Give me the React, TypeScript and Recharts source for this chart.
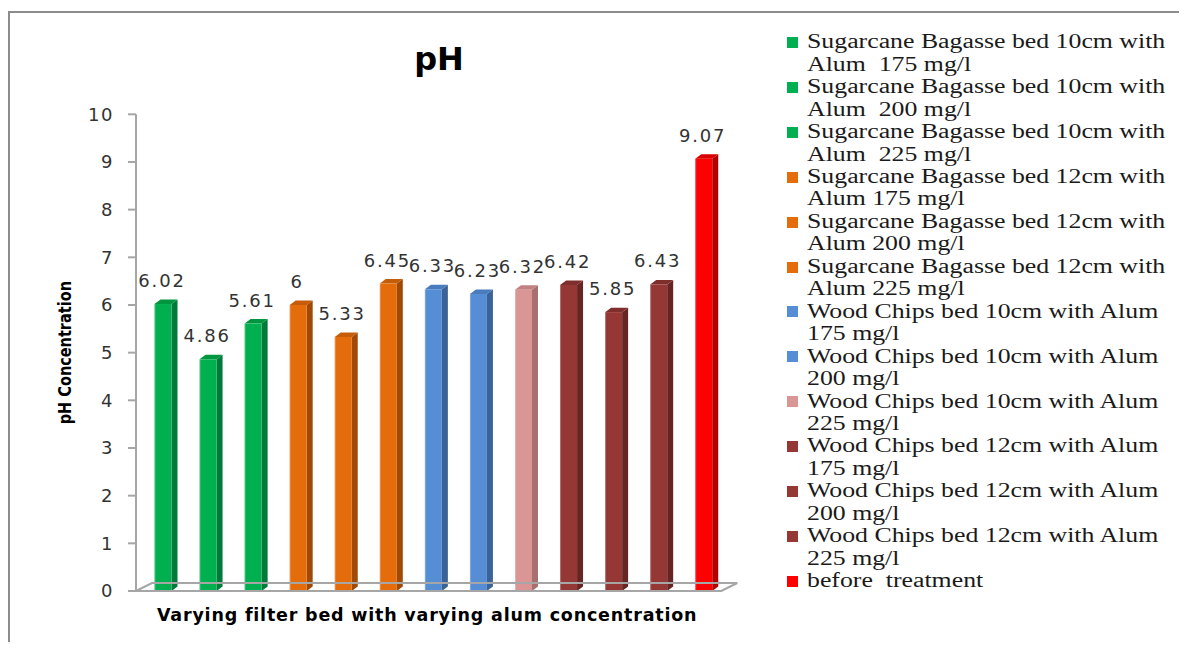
import React from 'react';
import { BarChart, Bar, XAxis, YAxis, LabelList, ReferenceLine } from 'recharts';

const categories: string[] = [
  'Sugarcane Bagasse bed 10cm with Alum  175 mg/l',
  'Sugarcane Bagasse bed 10cm with Alum  200 mg/l',
  'Sugarcane Bagasse bed 10cm with Alum  225 mg/l',
  'Sugarcane Bagasse bed 12cm with Alum 175 mg/l',
  'Sugarcane Bagasse bed 12cm with Alum 200 mg/l',
  'Sugarcane Bagasse bed 12cm with Alum 225 mg/l',
  'Wood Chips bed 10cm with Alum 175 mg/l',
  'Wood Chips bed 10cm with Alum 200 mg/l',
  'Wood Chips bed 10cm with Alum 225 mg/l',
  'Wood Chips bed 12cm with Alum 175 mg/l',
  'Wood Chips bed 12cm with Alum 200 mg/l',
  'Wood Chips bed 12cm with Alum 225 mg/l',
  'before  treatment',
];

const phValues: number[] = [6.02, 4.86, 5.61, 6, 5.33, 6.45, 6.33, 6.23, 6.32, 6.42, 5.85, 6.43, 9.07];

const frontColors: string[] = [
  '#00b050', '#00b050', '#00b050',
  '#e46c0a', '#e46c0a', '#e46c0a',
  '#558ed5', '#558ed5', '#d99694',
  '#953735', '#953735', '#953735',
  '#ff0000',
];

const sideColors: string[] = [
  '#007a38', '#007a38', '#007a38',
  '#a04a06', '#a04a06', '#a04a06',
  '#3a6397', '#3a6397', '#a86f6e',
  '#662523', '#662523', '#662523',
  '#b00000',
];

const topColors: string[] = [
  '#00963f', '#00963f', '#00963f',
  '#c55c08', '#c55c08', '#c55c08',
  '#4a7bbd', '#4a7bbd', '#c28180',
  '#7f2e2c', '#7f2e2c', '#7f2e2c',
  '#d80000',
];

const yTicks: number[] = [0, 1, 2, 3, 4, 5, 6, 7, 8, 9, 10];

const chartTitle = 'pH';
const xTitle = 'Varying filter bed with varying alum concentration';
const yTitle = 'pH Concentration';

const data = categories.map((name, i) => ({ name, value: phValues[i], idx: i }));

const DX = 6;
const DY = 4.5;

const Bar3D = (props: any) => {
  const { x, y, width, height } = props;
  const i = props.payload?.idx ?? props.index ?? 0;
  if (height == null || width == null) return null;
  const top = `${x},${y} ${x + DX},${y - DY} ${x + width + DX},${y - DY} ${x + width},${y}`;
  const side = `${x + width},${y} ${x + width + DX},${y - DY} ${x + width + DX},${y + height - DY} ${x + width},${y + height}`;
  return (
    <g>
      <polygon points={side} fill={sideColors[i]} />
      <polygon points={top} fill={topColors[i]} />
      <rect x={x} y={y} width={width} height={height} fill={frontColors[i]} />
      <line x1={x + 0.5} y1={y} x2={x + 0.5} y2={y + height} stroke="rgba(255,255,255,0.25)" strokeWidth={1} />
    </g>
  );
};

const ValueLabel = (props: any) => {
  const { x, y, width, value } = props;
  return (
    <text
      x={x + width / 2 - 1}
      y={y - 17}
      textAnchor="middle"
      fill="#333333"
      fontSize={18}
      fontFamily="'DejaVu Sans', sans-serif"
      letterSpacing={1.8}
    >
      {value}
    </text>
  );
};

const YTick = (props: any) => {
  const { x, y, payload } = props;
  return (
    <text
      x={x}
      y={y}
      dy="0.36em"
      textAnchor="end"
      fill="#333333"
      fontSize={18}
      fontFamily="'DejaVu Sans', sans-serif"
      letterSpacing={1.5}
    >
      {payload.value}
    </text>
  );
};

const YTitle = (props: any) => {
  const vb = props.viewBox || {};
  const cx = vb.x + 8;
  const cy = vb.y + vb.height / 2;
  return (
    <text
      transform={`translate(${cx},${cy}) scale(1.25,1) rotate(-90)`}
      x={0}
      y={0}
      dy="0.36em"
      textAnchor="middle"
      fill="#000"
      fontSize={14.5}
      fontWeight="bold"
      fontFamily="'DejaVu Sans', sans-serif"
    >
      {yTitle}
    </text>
  );
};

const XTitle = (props: any) => {
  const vb = props.viewBox || {};
  return (
    <text
      x={vb.x + vb.width / 2 - 4}
      y={vb.y + 30}
      textAnchor="middle"
      fill="#000"
      fontSize={17.5}
      fontWeight="bold"
      fontFamily="'DejaVu Sans', sans-serif"
      letterSpacing={0.8}
    >
      {xTitle}
    </text>
  );
};

const Floor = (props: any) => {
  const { x1, y1, x2 } = props;
  const left = x1;
  const right = x2 - 5;
  const pts = `${left},${y1} ${right},${y1} ${right + 16},${y1 - 8} ${left + 16},${y1 - 8} ${left},${y1}`;
  return <polyline points={pts} fill="none" stroke="#a6a6a6" strokeWidth={2} />;
};

const LegendBlock = () => (
  <div style={{ position: 'absolute', left: 777, top: 17.3, width: 400 }}>
    {categories.map((c, i) => (
      <div key={i} style={{ position: 'relative', display: 'flex', alignItems: 'flex-start' }}>
        <div style={{ width: 11, height: 11, background: frontColors[i], marginTop: 6.7, flex: 'none' }} />
        <div
          style={{
            marginLeft: 9,
            width: 292,
            fontFamily: "'Liberation Serif', 'Times New Roman', serif",
            fontSize: 20,
            lineHeight: '22.46px',
            color: '#1a1a1a',
            whiteSpace: 'pre-wrap',
            transform: 'scaleX(1.29)',
            transformOrigin: 'left top',
          }}
        >
          {c}
        </div>
      </div>
    ))}
  </div>
);

export default function App() {
  return (
    <div
      style={{
        position: 'relative',
        top: 3,
        width: 1179,
        height: 634,
        boxSizing: 'border-box',
        borderTop: '2px solid #8c8c8c',
        borderLeft: '2px solid #8c8c8c',
        background: '#fff',
        overflow: 'hidden',
      }}
    >
      <BarChart
        width={1177}
        height={632}
        data={data}
        margin={{ top: 101.3, right: 460.7, left: 46, bottom: 25 }}
      >
        <XAxis
          dataKey="name"
          tick={false}
          tickLine={false}
          axisLine={false}
          height={29}
          padding={{ left: 4.5, right: 0 }}
          label={<XTitle />}
        />
        <YAxis
          domain={[0, 10]}
          ticks={yTicks}
          interval={0}
          width={80}
          tickSize={8}
          tickMargin={14}
          axisLine={{ stroke: '#a6a6a6', strokeWidth: 2 }}
          tickLine={{ stroke: '#a6a6a6', strokeWidth: 2 }}
          tick={<YTick />}
          label={<YTitle />}
        />
        <ReferenceLine y={0} shape={<Floor />} ifOverflow="visible" />
        <Bar dataKey="value" barSize={17} shape={<Bar3D />} isAnimationActive={false}>
          <LabelList dataKey="value" content={<ValueLabel />} />
        </Bar>
      </BarChart>
      <div
        style={{
          position: 'absolute',
          left: 329,
          top: 25.9,
          width: 200,
          textAlign: 'center',
          fontFamily: "'DejaVu Sans', sans-serif",
          fontWeight: 'bold',
          fontSize: 32,
          lineHeight: '40px',
          color: '#000',
        }}
      >
        {chartTitle}
      </div>
      <LegendBlock />
    </div>
  );
}
